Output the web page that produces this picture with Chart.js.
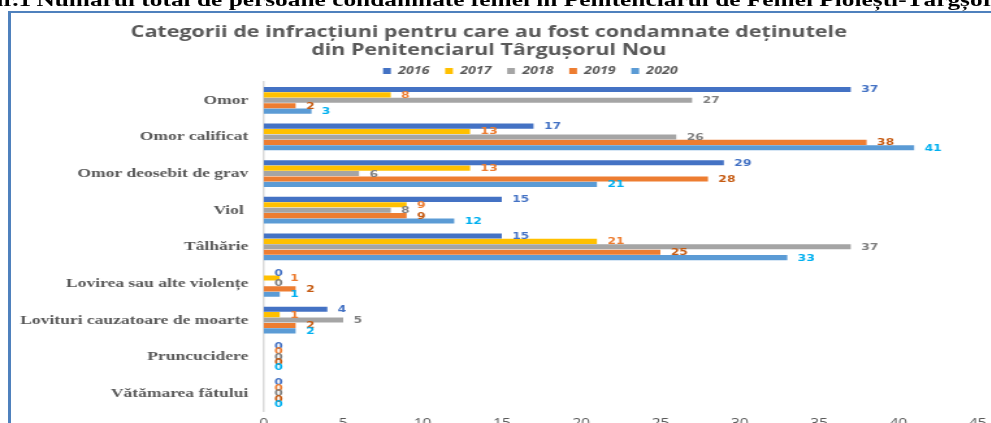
<!DOCTYPE html>
<html>
<head>
<meta charset="utf-8">
<title>Categorii de infracțiuni</title>
<script src="https://cdn.jsdelivr.net/npm/chart.js@4.4.0/dist/chart.umd.min.js"></script>
<style>
  html, body { margin: 0; padding: 0; background: #fff; overflow: hidden; width: 991px; height: 423px; }
  #stage { position: absolute; left: 0; top: 0; width: 770px; height: 450px; transform: scaleX(1.3); transform-origin: 0 0; }
  .head { position: absolute; top: -10px; font: bold 19.5px "Liberation Serif", "Times New Roman", serif; color: #000; white-space: nowrap; line-height: 20px; }
  #frame { position: absolute; left: 8px; top: 11px; width: 1000px; height: 500px; border-left: 3px solid #4F81BD; border-top: 2px solid #4F81BD; }
  #chart { position: absolute; left: 0; top: 0; }
</style>
</head>
<body>
<div id="frame"></div>
<div id="stage">
  <div class="head" style="right: 746px;">Graficul nr.1</div>
  <div class="head" style="left: 28px;">Numărul total de persoane condamnate femei în Penitenciarul de Femei Ploiești-Târgșor</div>
  <canvas id="chart" width="770" height="450" style="width:770px;height:450px"></canvas>
</div>
<script>
// categories, top to bottom
const categories = [
    'Omor',
    'Omor calificat',
    'Omor deosebit de grav',
    'Viol ',
    'Tâlhărie',
    'Lovirea sau alte violențe',
    'Lovituri cauzatoare de moarte',
    'Pruncucidere',
    'Vătămarea fătului'
];
const years = ['2016', '2017', '2018', '2019', '2020'];

const values2016 = [37, 17, 29, 15, 15, 0, 4, 0, 0];
const values2017 = [8, 13, 13, 9, 21, 1, 1, 0, 0];
const values2018 = [27, 26, 6, 8, 37, 0, 5, 0, 0];
const values2019 = [2, 38, 28, 9, 25, 2, 2, 0, 0];
const values2020 = [3, 41, 21, 12, 33, 1, 2, 0, 0];

const xMin = 0;
const xMax = 45;
const xStep = 5;

const barColors = ['#4472C4', '#FFC000', '#A5A5A5', '#ED7D31', '#5B9BD5'];
const labelColors = ['#4472C4', '#ED7D31', '#7F7F7F', '#C55A11', '#00B0F0'];

const seriesValues = [values2016, values2017, values2018, values2019, values2020];

// value labels next to each bar end
const valueLabels = {
    id: 'valueLabels',
    afterDatasetsDraw(chart) {
        const ctx = chart.ctx;
        ctx.save();
        ctx.font = 'bold 9.5px "DejaVu Sans", Verdana, sans-serif';
        ctx.textBaseline = 'middle';
        ctx.textAlign = 'left';
        chart.data.datasets.forEach((ds, i) => {
            const meta = chart.getDatasetMeta(i);
            ctx.fillStyle = labelColors[i];
            meta.data.forEach((bar, j) => {
                ctx.fillText(String(ds.data[j]), bar.x + 8, bar.y + 0.5);
            });
        });
        ctx.restore();
    }
};

// the legend sits a bit right of the title in the original
const legendNudge = {
    id: 'legendNudge',
    afterLayout(chart) {
        const lg = chart.legend;
        lg.left += 32;
        lg.right += 32;
        lg.top -= 6.5;
        lg.bottom -= 6.5;
    }
};

const ctx = document.getElementById('chart').getContext('2d');

new Chart(ctx, {
    type: 'bar',
    data: {
        labels: categories,
        datasets: years.map((y, i) => ({
            label: y,
            data: seriesValues[i],
            backgroundColor: barColors[i],
            borderWidth: 0,
            barPercentage: 0.94,
            categoryPercentage: 0.74
        }))
    },
    options: {
        indexAxis: 'y',
        responsive: false,
        animation: false,
        devicePixelRatio: 1,
        layout: { padding: { left: 0, right: 18, top: 0, bottom: 14 } },
        scales: {
            x: {
                min: xMin,
                max: xMax,
                grid: { display: false, drawTicks: false },
                border: { display: false },
                ticks: {
                    stepSize: xStep,
                    padding: 5,
                    color: '#595959',
                    font: { family: '"Open Sans", sans-serif', size: 12 }
                }
            },
            y: {
                grid: { display: false, drawTicks: false },
                border: { display: true, color: '#D9D9D9', width: 1.5 },
                ticks: {
                    padding: 12,
                    color: '#595959',
                    font: { family: '"Liberation Serif", "Times New Roman", serif', size: 13.5, weight: 'bold' }
                },
                afterFit(scale) {
                    scale.width = 203;
                }
            }
        },
        plugins: {
            title: {
                display: true,
                text: [
                    'Categorii de infracțiuni pentru care au fost condamnate deținutele',
                    'din Penitenciarul Târgușorul Nou'
                ],
                color: '#595959',
                font: { family: '"Open Sans", sans-serif', size: 16.5, weight: 'bold', lineHeight: 18.5 / 16.5 },
                padding: { top: 23, bottom: 0 }
            },
            legend: {
                position: 'top',
                maxHeight: 22,
                labels: {
                    boxWidth: 6,
                    boxHeight: 6,
                    padding: 12,
                    color: '#595959',
                    font: { family: '"Open Sans", sans-serif', size: 11, style: 'italic', weight: 'bold' }
                }
            },
            tooltip: { enabled: false }
        }
    },
    plugins: [valueLabels, legendNudge]
});
</script>
</body>
</html>
